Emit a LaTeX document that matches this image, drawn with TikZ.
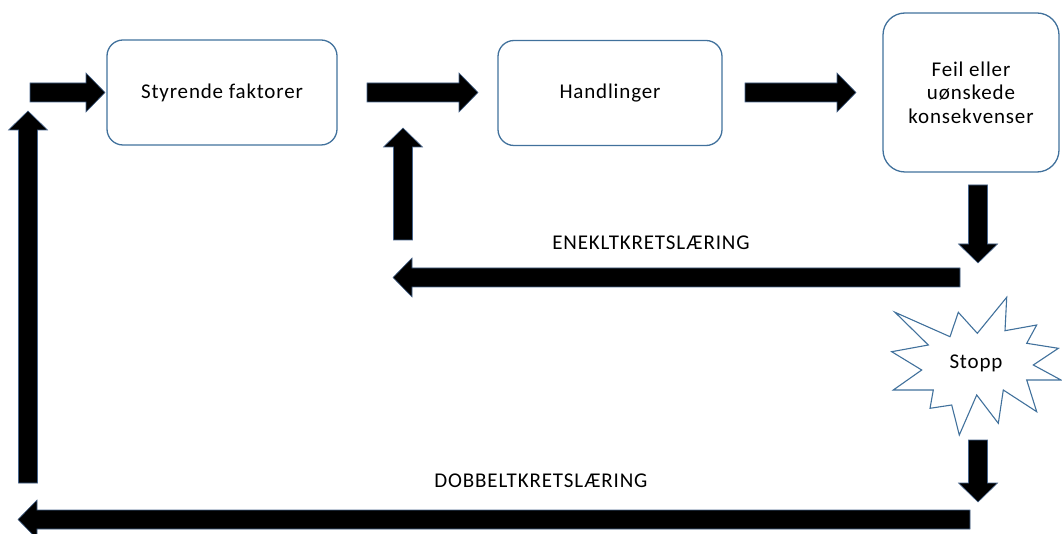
\documentclass[tikz,border=0pt]{standalone}
\usepackage{fontspec}
\setmainfont{Carlito}[LetterSpace=4]
\usetikzlibrary{calc}
\definecolor{boxedge}{RGB}{65,113,156}
\definecolor{arrowedge}{RGB}{70,100,140}
\newcommand{\blockarrow}[2]{%
  \path ($(#2)!19pt!(#1)$) coordinate (hb);
  \draw[blkarrow] ($(#1)!9.5pt!90:(#2)$) -- ($(hb)!9.5pt!90:(#2)$) -- ($(hb)!19.5pt!90:(#2)$) -- (#2)
     -- ($(hb)!19.5pt!-90:(#2)$) -- ($(hb)!9.5pt!-90:(#2)$) -- ($(#1)!9.5pt!-90:(#2)$) -- cycle;}
\begin{document}
\begin{tikzpicture}[x=1pt,y=-1pt,
  rbox/.style={draw=boxedge, line width=1.3pt, rounded corners=16pt, align=center, font=\fontsize{21}{23.5}\selectfont},
  blkarrow/.style={fill=black, draw=arrowedge, line width=0.6pt, line join=miter},
  lab/.style={font=\fontsize{21}{23}\selectfont}]
\useasboundingbox (0,0) rectangle (1062,534);
% boxes
\node[rbox, minimum width=230pt, minimum height=105pt] (sf) at (222,92.5) {Styrende faktorer};
\node[rbox, minimum width=224pt, minimum height=105pt] (ha) at (610,93) {Handlinger};
\node[rbox, minimum width=176pt, minimum height=159pt, rounded corners=22pt] (fe) at (971,92.5) {Feil eller\\uønskede\\konsekvenser};
% star
\draw[draw=boxedge, line width=1.1pt, fill=white, line join=miter]
  (895,312.3) -- (950,336.7) -- (958.3,312.3) -- (977.3,333.3) -- (1006.7,297.3) -- (1005,330.7)
  -- (1036.7,325) -- (1026.7,343.3) -- (1058.3,348.3) -- (1033.3,365) -- (1061,380) -- (1026.7,380)
  -- (1036.7,411.7) -- (1003.3,390) -- (998.3,423.3) -- (976.7,395) -- (959.3,435) -- (951.7,405)
  -- (930,408.3) -- (933.3,390) -- (893.3,390) -- (921.7,370) -- (891.7,351.7) -- (928.3,345) -- cycle;
\node[font=\fontsize{21}{23}\selectfont] (st) at (976,363) {Stopp};
% arrow end points
\coordinate (a1s) at (30,92.5);  \coordinate (a1e) at (105,92.5);
\coordinate (a2s) at (367,92.5); \coordinate (a2e) at (478,92.5);
\coordinate (a3s) at (745,92.5); \coordinate (a3e) at (856,92.5);
\coordinate (d1s) at (978,185);  \coordinate (d1e) at (978,263);
\coordinate (ens) at (960,277.5); \coordinate (ene) at (393,277.5);
\coordinate (u1s) at (403,240);  \coordinate (u1e) at (403,128);
\coordinate (d2s) at (978,440);  \coordinate (d2e) at (978,502);
\coordinate (dbs) at (970,519.5); \coordinate (dbe) at (18,519.5);
\coordinate (u2s) at (28,483);   \coordinate (u2e) at (28,111);
\blockarrow{a1s}{a1e}
\blockarrow{a2s}{a2e}
\blockarrow{a3s}{a3e}
\blockarrow{d1s}{d1e}
\blockarrow{ens}{ene}
\blockarrow{u1s}{u1e}
\blockarrow{d2s}{d2e}
\blockarrow{dbs}{dbe}
\blockarrow{u2s}{u2e}
% labels
\node[lab] (enk) at (651,243) {ENEKLTKRETSLÆRING};
\node[lab] (dob) at (541,481) {DOBBELTKRETSLÆRING};
\end{tikzpicture}
\end{document}
